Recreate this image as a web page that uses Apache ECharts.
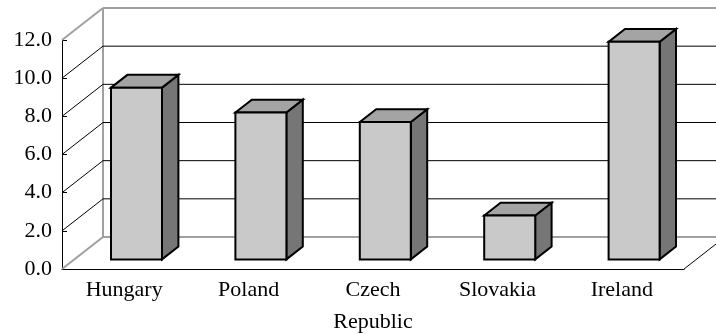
<!DOCTYPE html>
<html>
<head>
<meta charset="utf-8">
<script src="https://cdn.jsdelivr.net/npm/echarts@6/dist/echarts.min.js"></script>
<style>
  html, body { margin: 0; padding: 0; background: #fff; }
  #chart { width: 716px; height: 334px; }
</style>
</head>
<body>
<div id="chart"></div>
<script>
// Chart data
const categories = ['Hungary', 'Poland', 'Czech\nRepublic', 'Slovakia', 'Ireland'];
const values = [9.0, 7.7, 7.2, 2.3, 11.4];
const tickValues = [0, 2, 4, 6, 8, 10, 12];

// Oblique projection of the depth axis (pixels from front plane to back wall)
const DX = 41;
const DY = -32;
// Bar placement inside the depth, as fractions of the full depth
const BAR_FRONT = 0.3;
const BAR_BACK = 0.7;
const BAR_WIDTH = 0.41;

const FONT = "'Liberation Serif', 'Times New Roman', serif";
const EDGE = '#a0a0a0';

const chart = echarts.init(document.getElementById('chart'), null, { renderer: 'canvas' });

// Walls: one item per tick value -> side-wall diagonal + back-wall gridline
function renderWalls(params, api) {
  const cs = params.coordSys;
  const v = api.value(1);
  const y = api.coord([0, v])[1];
  const x0 = cs.x;
  const isEdge = (v === tickValues[0] || v === tickValues[tickValues.length - 1]);
  const color = isEdge ? EDGE : '#000';
  const lw = isEdge ? 2 : 1;
  const children = [
    { type: 'line', shape: { x1: x0, y1: y, x2: x0 + DX, y2: y + DY },
      style: { stroke: color, lineWidth: lw } },
    { type: 'line', shape: { x1: x0 + DX, y1: y + DY, x2: x0 + DX + cs.width, y2: y + DY },
      style: { stroke: color, lineWidth: lw } }
  ];
  if (v === tickValues[0]) {
    const yTop = api.coord([0, tickValues[tickValues.length - 1]])[1];
    // back-left vertical edge of the walls
    children.push({ type: 'line', shape: { x1: x0 + DX, y1: y + DY, x2: x0 + DX, y2: yTop + DY },
      style: { stroke: EDGE, lineWidth: 2 } });
    // right edge of the floor
    children.push({ type: 'line', shape: { x1: x0 + cs.width, y1: y, x2: x0 + cs.width + DX, y2: y + DY },
      style: { stroke: '#000', lineWidth: 1 } });
  }
  return { type: 'group', children };
}

// 3D column: front face, top face, right side face
function renderBar(params, api) {
  const i = api.value(0);
  const v = api.value(1);
  const base = api.coord([i, 0]);
  const top = api.coord([i, v]);
  const band = api.size([1, 0])[0];
  const w = band * BAR_WIDTH;
  const cx = base[0] + BAR_FRONT * DX;
  const oy = BAR_FRONT * DY;
  const left = cx - w / 2;
  const right = cx + w / 2;
  const yb = base[1] + oy;
  const yt = top[1] + oy;
  const bx = (BAR_BACK - BAR_FRONT) * DX;
  const by = (BAR_BACK - BAR_FRONT) * DY;
  const stroke = { stroke: '#000', lineWidth: 2, lineJoin: 'miter' };
  return {
    type: 'group',
    children: [
      { type: 'polygon', shape: { points: [[right, yt], [right + bx, yt + by], [right + bx, yb + by], [right, yb]] },
        style: Object.assign({ fill: '#767676' }, stroke) },
      { type: 'polygon', shape: { points: [[left, yt], [left + bx, yt + by], [right + bx, yt + by], [right, yt]] },
        style: Object.assign({ fill: '#a4a4a4' }, stroke) },
      { type: 'rect', shape: { x: left, y: yt, width: w, height: yb - yt },
        style: Object.assign({ fill: '#c9c9c9' }, stroke) }
    ]
  };
}

const option = {
  animation: false,
  backgroundColor: '#fff',
  grid: { left: 62, top: 40, width: 622, height: 229, containLabel: false, outerBoundsMode: 'none' },
  xAxis: {
    type: 'category',
    data: categories,
    axisLine: { lineStyle: { color: '#000', width: 1 } },
    axisTick: { inside: true, length: 5, lineStyle: { color: '#000' } },
    axisLabel: {
      color: '#000', fontFamily: FONT, fontSize: 22, lineHeight: 32, margin: 5,
      interval: 0
    },
    splitLine: { show: false }
  },
  yAxis: {
    type: 'value',
    min: 0, max: 12, interval: 2,
    axisLine: { show: true, lineStyle: { color: '#000', width: 1 } },
    axisTick: { show: true, inside: true, length: 5, lineStyle: { color: '#000' } },
    axisLabel: {
      color: '#000', fontFamily: FONT, fontSize: 22, margin: 10,
      formatter: (v) => v.toFixed(1)
    },
    splitLine: { show: false }
  },
  series: [
    {
      type: 'custom',
      name: 'walls',
      renderItem: renderWalls,
      data: tickValues.map((v) => [0, v]),
      encode: { x: 0, y: 1 },
      silent: true,
      z: 1
    },
    {
      type: 'custom',
      name: 'bars',
      renderItem: renderBar,
      data: values.map((v, i) => [i, v]),
      encode: { x: 0, y: 1 },
      z: 3
    }
  ]
};

chart.setOption(option);
</script>
</body>
</html>
